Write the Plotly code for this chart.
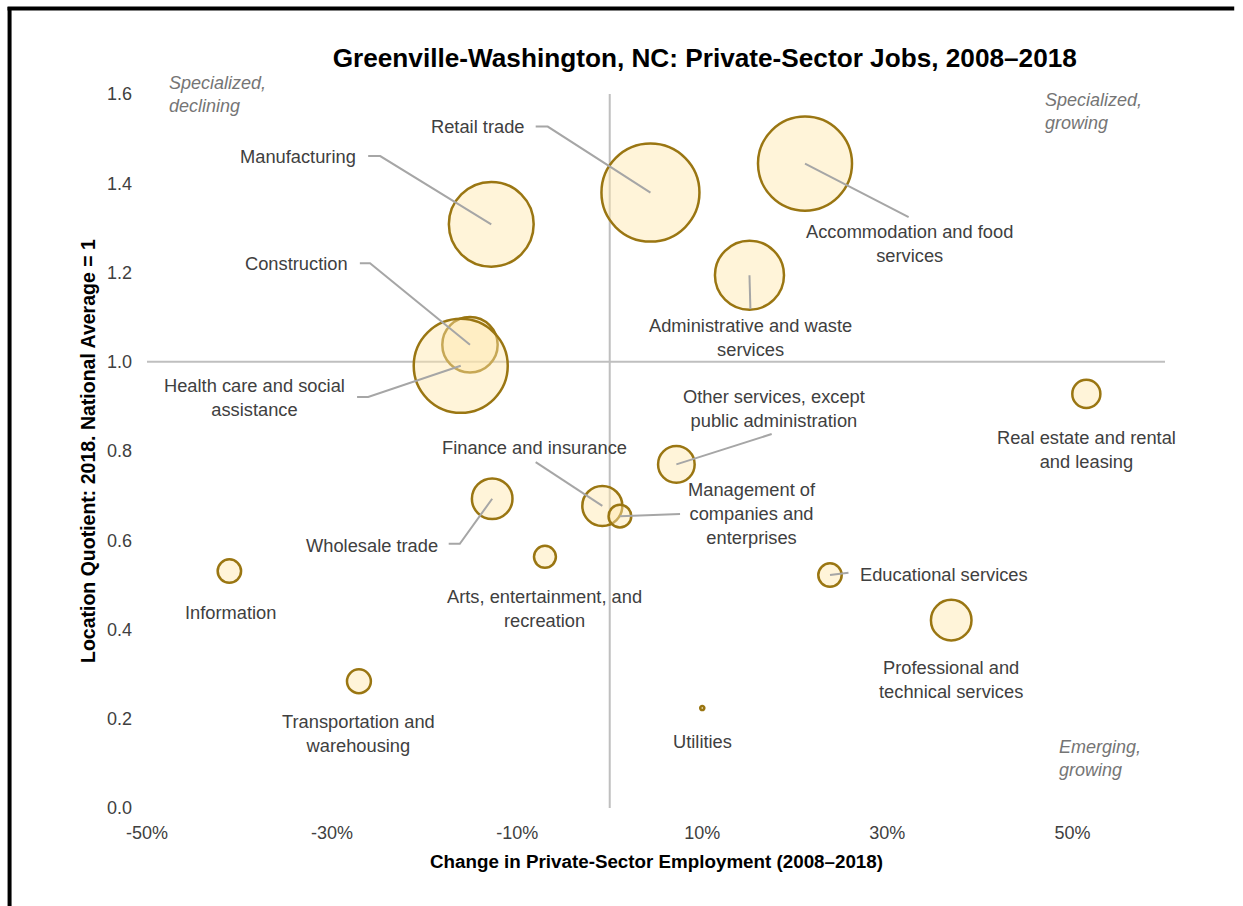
import plotly.graph_objects as go

# Industry data: employment change 2008-2018 (%), 2018 location quotient, jobs
industries = [
    "Manufacturing", "Retail trade", "Accommodation and food services",
    "Administrative and waste services", "Construction",
    "Health care and social assistance", "Real estate and rental and leasing",
    "Other services, except public administration", "Wholesale trade",
    "Finance and insurance", "Management of companies and enterprises",
    "Arts, entertainment, and recreation", "Educational services",
    "Professional and technical services", "Information",
    "Transportation and warehousing", "Utilities",
]
emp_change = [-12.8, 4.4, 21.1, 15.1, -15.1, -16.1, 51.5, 7.2, -12.7,
              -0.8, 1.1, -7.0, 23.8, 36.9, -41.1, -27.1, 10.0]
location_quotient = [1.308, 1.379, 1.444, 1.194, 1.038, 0.991, 0.928, 0.770, 0.693,
                     0.677, 0.654, 0.563, 0.522, 0.421, 0.531, 0.284, 0.224]
jobs = [6290, 8400, 7730, 4170, 2680, 7730, 690, 1170, 1440,
        1400, 450, 420, 480, 1440, 480, 500, 15]

x_ticks = [-50, -30, -10, 10, 30, 50]
x_tick_labels = ["-50%", "-30%", "-10%", "10%", "30%", "50%"]
y_ticks = [0.0, 0.2, 0.4, 0.6, 0.8, 1.0, 1.2, 1.4, 1.6]
y_tick_labels = ["0.0", "0.2", "0.4", "0.6", "0.8", "1.0", "1.2", "1.4", "1.6"]

# Label placement: (text, x, y, xanchor, leader elbow points or None)
label_layout = {
    "Manufacturing": ("Manufacturing", -27.2, 1.461, "right", [(-26.1, 1.461), (-24.8, 1.461)]),
    "Retail trade": ("Retail trade", -8.9, 1.527, "right", [(-8.0, 1.527), (-6.7, 1.527)]),
    "Accommodation and food services": ("Accommodation and food<br>services", 32.4, 1.264, "center", [(32.3, 1.324)]),
    "Administrative and waste services": ("Administrative and waste<br>services", 15.2, 1.055, "center", [(15.2, 1.118)]),
    "Construction": ("Construction", -28.1, 1.221, "right", [(-27.0, 1.221), (-25.9, 1.221)]),
    "Health care and social assistance": ("Health care and social<br>assistance", -38.4, 0.919, "center", [(-27.3, 0.921), (-26.1, 0.921)]),
    "Real estate and rental and leasing": ("Real estate and rental<br>and leasing", 51.5, 0.804, "center", None),
    "Other services, except public administration": ("Other services, except<br>public administration", 17.8, 0.896, "center", [(17.5, 0.838)]),
    "Wholesale trade": ("Wholesale trade", -18.3, 0.589, "right", [(-17.4, 0.592), (-16.2, 0.592)]),
    "Finance and insurance": ("Finance and insurance", -8.1, 0.807, "center", [(-8.0, 0.775)]),
    "Management of companies and enterprises": ("Management of<br>companies and<br>enterprises", 15.4, 0.659, "center", [(7.6, 0.659)]),
    "Arts, entertainment, and recreation": ("Arts, entertainment, and<br>recreation", -7.1, 0.446, "center", None),
    "Educational services": ("Educational services", 26.8, 0.524, "left", [(25.8, 0.527)]),
    "Professional and technical services": ("Professional and<br>technical services", 36.9, 0.287, "center", None),
    "Information": ("Information", -41.0, 0.439, "center", None),
    "Transportation and warehousing": ("Transportation and<br>warehousing", -27.1, 0.166, "center", None),
    "Utilities": ("Utilities", 10.0, 0.150, "center", None),
}

quadrant_notes = [
    ("Specialized,<br>declining", -47.8, 1.600),
    ("Specialized,<br>growing", 46.8, 1.560),
    ("Nonspecialized,<br>declining", -51.0, 0.112),
    ("Emerging,<br>growing", 48.3, 0.112),
]

FONT = "Arial, 'Liberation Sans', sans-serif"
TEXT = "#404040"
GOLD = "#9A7612"
LEADER = "#A6A6A6"

max_diameter = 98
sizeref = 2.0 * max(jobs) / max_diameter ** 2

fig = go.Figure()
fig.add_trace(go.Scatter(
    x=emp_change, y=location_quotient, mode="markers",
    text=industries,
    marker=dict(size=jobs, sizemode="area", sizeref=sizeref, opacity=1,
                color="rgba(255,230,170,0.45)",
                line=dict(color=GOLD, width=2.5)),
    hovertemplate="%{text}<br>%{x:.1f}%<br>LQ %{y:.2f}<extra></extra>",
    showlegend=False,
))

shapes = [
    # reference lines: national average LQ and zero growth
    dict(type="line", xref="x", yref="y", x0=-50, x1=60, y0=1.0, y1=1.0,
         line=dict(color="#BFBFBF", width=2), layer="below"),
    dict(type="line", xref="x", yref="y", x0=0, x1=0, y0=0, y1=1.6,
         line=dict(color="#BFBFBF", width=2), layer="below"),
    # outer frame on the left and top edges
    dict(type="line", xref="paper", yref="paper",
         x0=-0.1350, x1=-0.1350, y0=-0.15, y1=1.122,
         line=dict(color="black", width=4), layer="above"),
    dict(type="line", xref="paper", yref="paper",
         x0=-0.137, x1=1.068, y0=1.1197, y1=1.1197,
         line=dict(color="black", width=4), layer="above"),
]

annotations = []
for name, xv, yv in zip(industries, emp_change, location_quotient):
    text, lx, ly, anchor, elbow = label_layout[name]
    annotations.append(dict(
        x=lx, y=ly, xref="x", yref="y", text=text, showarrow=False,
        xanchor=anchor, yanchor="middle", align="center",
        font=dict(family=FONT, size=18.3, color=TEXT),
    ))
    if elbow:
        pts = elbow + [(xv, yv)]
        path = "M " + " L ".join(f"{px},{py}" for px, py in pts)
        shapes.append(dict(type="path", xref="x", yref="y", path=path,
                           line=dict(color=LEADER, width=2), layer="above"))

for text, qx, qy in quadrant_notes:
    annotations.append(dict(
        x=qx, y=qy, xref="x", yref="y", text=f"<i>{text}</i>", showarrow=False,
        xanchor="left", yanchor="middle", align="left",
        font=dict(family=FONT, size=18, color="#757575"),
    ))

# axis titles
annotations.append(dict(
    x=0.5, y=0, xref="paper", yref="paper", yshift=-53,
    text="<b>Change in Private-Sector Employment (2008–2018)</b>",
    showarrow=False, xanchor="center", yanchor="middle",
    font=dict(family=FONT, size=18.8, color="black"),
))
annotations.append(dict(
    x=0, y=0.5, xref="paper", yref="paper", xshift=-59, textangle=-90,
    text="<b>Location Quotient: 2018. National Average = 1</b>",
    showarrow=False, xanchor="center", yanchor="middle",
    font=dict(family=FONT, size=19.5, color="black"),
))

fig.update_layout(
    width=1243, height=906,
    margin=dict(l=147, r=78, t=94, b=98),
    paper_bgcolor="white", plot_bgcolor="white",
    title=dict(text="<b>Greenville-Washington, NC: Private-Sector Jobs, 2008–2018</b>",
               x=0.567, xanchor="center", y=0.936, yanchor="middle",
               font=dict(family=FONT, size=26.2, color="black")),
    xaxis=dict(range=[-50, 60], tickvals=x_ticks, ticktext=x_tick_labels,
               showgrid=False, zeroline=False, showline=False, ticks="",
               ticklabelstandoff=12,
               tickfont=dict(family=FONT, size=18, color=TEXT)),
    yaxis=dict(range=[0, 1.6], tickvals=y_ticks, ticktext=y_tick_labels,
               showgrid=False, zeroline=False, showline=False, ticks="",
               ticklabelstandoff=14,
               tickfont=dict(family=FONT, size=18, color=TEXT)),
    shapes=shapes,
    annotations=annotations,
)

fig.write_html("out.html", config={"displayModeBar": False})
